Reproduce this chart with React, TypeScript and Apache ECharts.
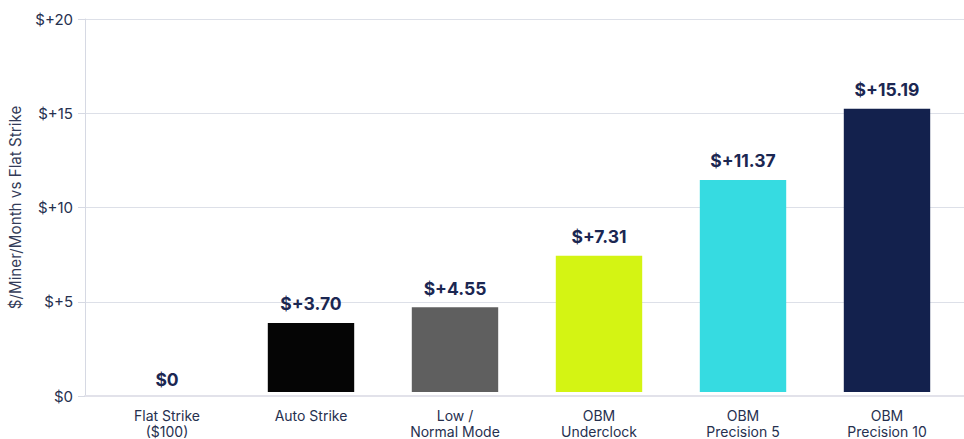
import React, { useEffect, useRef } from "react";
import * as echarts from "echarts";

const categories = [
  "Flat Strike\n($100)",
  "Auto Strike",
  "Low /\nNormal Mode",
  "OBM\nUnderclock",
  "OBM\nPrecision 5",
  "OBM\nPrecision 10",
];
const values = [0, 3.7, 4.55, 7.31, 11.37, 15.19];
const valueLabels = ["$0", "$+3.70", "$+4.55", "$+7.31", "$+11.37", "$+15.19"];
const barColors = ["#13214d", "#050505", "#5f5f5f", "#d4f413", "#36dbe1", "#13214d"];
const yMin = 0;
const yMax = 20;
const yInterval = 5;
const yAxisName = "$/Miner/Month vs Flat Strike";

const FONT = "Inter, 'Noto Sans', sans-serif";
const TEXT = "#26304f";

export default function App() {
  const ref = useRef<HTMLDivElement>(null);
  useEffect(() => {
    if (!ref.current) return;
    const chart = echarts.init(ref.current, undefined, { renderer: "svg" });
    chart.setOption({
      animation: false,
      textStyle: { fontFamily: FONT },
      grid: [
        { left: 83, right: 0, top: 19, bottom: 43 },
        { left: 95, right: 5, top: 19, bottom: 43 },
      ],
      xAxis: [
        {
          gridIndex: 0,
          type: "value",
          min: 0,
          max: 1,
          axisLine: { show: true, lineStyle: { color: "#e2e2ea", width: 2 } },
          axisTick: { show: false },
          axisLabel: { show: false },
          splitLine: { show: false },
        },
        {
          gridIndex: 1,
          type: "category",
          data: categories,
          axisLine: { show: false },
          axisTick: { show: false },
          axisLabel: {
            color: TEXT,
            fontSize: 14,
            lineHeight: 16,
            margin: 15,
            fontFamily: FONT,
          },
        },
      ],
      yAxis: [
        {
          gridIndex: 0,
          type: "value",
          min: yMin,
          max: yMax,
          interval: yInterval,
          axisLine: { show: true, lineStyle: { color: "#d6d9e3", width: 1 } },
          axisTick: { show: true, length: 7, lineStyle: { color: "#d6d9e3" } },
          axisLabel: {
            color: TEXT,
            fontSize: 15,
            margin: 12,
            fontFamily: FONT,
            formatter: (v: number) => (v === 0 ? "$0" : "$+" + v),
          },
          splitLine: { show: true, lineStyle: { color: "#dde0e8", width: 1 } },
          name: yAxisName,
          nameLocation: "middle",
          nameGap: 62,
          nameTextStyle: { color: "#333b58", fontSize: 15.2, fontFamily: FONT },
        },
        {
          gridIndex: 1,
          type: "value",
          min: yMin,
          max: yMax,
          interval: yInterval,
          show: false,
          splitLine: { show: false },
        },
      ],
      series: [
        {
          type: "bar",
          xAxisIndex: 1,
          yAxisIndex: 1,
          barWidth: "60%",
          data: values.map((v, i) => ({
            value: v,
            itemStyle: { color: barColors[i] },
            label: v === 0 ? { distance: 4 } : undefined,
          })),
          label: {
            show: true,
            position: "top",
            distance: 10,
            color: "#1b2752",
            fontSize: 17.5,
            fontWeight: "bold",
            fontFamily: FONT,
            formatter: (p: any) => valueLabels[p.dataIndex],
          },
        },
      ],
    });
    return () => chart.dispose();
  }, []);
  return <div ref={ref} style={{ width: 964, height: 439, position: "absolute", left: 0, top: 0 }} />;
}
